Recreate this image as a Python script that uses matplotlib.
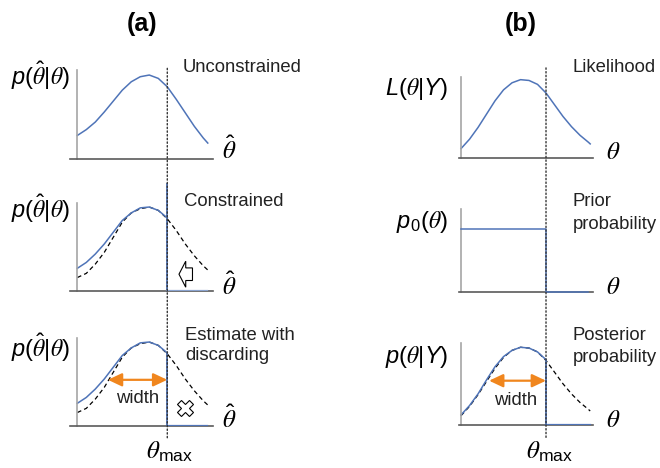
import matplotlib
matplotlib.use('Agg')
import matplotlib.pyplot as plt
from matplotlib.patches import ConnectionPatch, FancyArrow

plt.rcParams['font.family'] = ['Liberation Sans', 'DejaVu Sans']
plt.rcParams['mathtext.fontset'] = 'custom'
plt.rcParams['mathtext.rm'] = 'Liberation Sans'
plt.rcParams['mathtext.it'] = 'STIXGeneral:italic'
plt.rcParams['mathtext.sf'] = 'Liberation Sans:italic'

theta_max = 1.0

# columna (a): estimador
theta_a = [0, 0.1, 0.2, 0.3, 0.4, 0.5, 0.6, 0.7, 0.8, 0.9, 1.0, 1.1, 1.2, 1.3, 1.4, 1.45]
p_unconstrained = [0.28, 0.35, 0.44, 0.56, 0.69, 0.82, 0.92, 0.98, 1.00, 0.96, 0.86, 0.71, 0.55, 0.39, 0.25, 0.19]
p_reference = [0.16, 0.21, 0.32, 0.46, 0.64, 0.82, 0.93, 0.98, 1.00, 0.96, 0.86, 0.72, 0.56, 0.42, 0.30, 0.25]
theta_a_cut = [0, 0.1, 0.2, 0.3, 0.4, 0.5, 0.6, 0.7, 0.8, 0.9, 1.0]
p_constrained = [0.27, 0.34, 0.44, 0.56, 0.70, 0.84, 0.93, 0.99, 1.00, 0.96, 0.87]
tail_end_a = 1.44

# columna (b): bayesiano
theta_b = [0, 0.1, 0.2, 0.3, 0.4, 0.5, 0.6, 0.7, 0.8, 0.9, 1.0, 1.1, 1.2, 1.3, 1.4, 1.5, 1.52]
likelihood = [0.12, 0.24, 0.39, 0.56, 0.73, 0.87, 0.96, 1.00, 0.99, 0.94, 0.83, 0.68, 0.53, 0.40, 0.29, 0.20, 0.18]
theta_b_cut = [0, 0.1, 0.2, 0.3, 0.4, 0.5, 0.6, 0.7, 0.8, 0.9, 1.0]
posterior = [0.13, 0.25, 0.40, 0.58, 0.75, 0.88, 0.96, 1.00, 0.99, 0.94, 0.84]
prior_theta = [0, 1.0, 1.0, 1.49]
prior_p = [0.81, 0.81, 0, 0]
tail_end_b = 1.52

blue = '#4f74b8'
orange = '#f0861e'

W, H = 660, 468
fig = plt.figure(figsize=(W / 100, H / 100), dpi=100)


def make_ax(left, top, right, bottom, xlim, ylim):
    ax = fig.add_axes([left / W, 1 - bottom / H, (right - left) / W, (bottom - top) / H])
    ax.set_xlim(*xlim)
    ax.set_ylim(*ylim)
    ax.spines['top'].set_visible(False)
    ax.spines['right'].set_visible(False)
    ax.spines['left'].set_position(('data', 0))
    ax.spines['left'].set_color('#a6a6a6')
    ax.spines['bottom'].set_color('#5a5a5a')
    ax.spines['left'].set_linewidth(1.2)
    ax.spines['bottom'].set_linewidth(1.2)
    ax.set_xticks([])
    ax.set_yticks([])
    ax.patch.set_alpha(0)
    return ax


def ftext(x, y, s, **kw):
    fig.text(x / W, 1 - y / H, s, **kw)


xa = (-0.081, 1.508)
xb = (-0.024, 1.553)
ax_a1 = make_ax(70, 70, 213, 159, xa, (0, 1.06))
ax_a2 = make_ax(70, 203, 213, 291, xa, (0, 1.048))
ax_a3 = make_ax(70, 338, 213, 426, xa, (0, 1.048))
ax_b1 = make_ax(459, 77, 593, 158, xb, (0, 1.034))
ax_b2 = make_ax(459, 209, 593, 292, xb, (0, 1.064))
ax_b3 = make_ax(459, 343, 593, 425, xb, (0, 1.055))

dash = (0, (3.5, 2.5))

# (a) sin restriccion
ax_a1.plot(theta_a, p_unconstrained, color=blue, lw=1.1)

# (a) con restriccion
ax_a2.plot(theta_a, p_reference, color='black', lw=0.9, ls=dash)
ax_a2.plot(theta_a_cut, p_constrained, color=blue, lw=1.1)
ax_a2.plot([theta_max, theta_max], [0, 1.27], color=blue, lw=1.3, clip_on=False)
ax_a2.plot([theta_max, tail_end_a], [0, 0], color='#8aa3cf', lw=1.6, zorder=5)
ax_a2.add_patch(FancyArrow(1.28, 0.20, -0.15, 0, width=0.15, head_width=0.31,
                           head_length=0.075, length_includes_head=True,
                           fc='white', ec='black', lw=0.8))

# (a) descartando
ax_a3.plot(theta_a, p_reference, color='black', lw=0.9, ls=dash)
ax_a3.plot(theta_a_cut, p_constrained, color=blue, lw=1.1)
ax_a3.plot([theta_max, theta_max], [0, p_constrained[-1]], color=blue, lw=1.3)
ax_a3.plot([theta_max, tail_end_a], [0, 0], color=blue, lw=1.6, zorder=5)
ax_a3.annotate('', xy=(theta_max, 0.55), xytext=(0.34, 0.55),
               arrowprops=dict(arrowstyle='<|-|>,head_length=0.7,head_width=0.33',
                               color=orange, lw=1.6, shrinkA=0, shrinkB=0,
                               mutation_scale=12))
ax_a3.text(0.665, 0.33, 'width', fontsize=13.3, ha='center', va='center', color='#222222')
ax_a3.plot(1.2, 0.21, marker='X', ms=12, mfc='white', mec='black', mew=0.8)

# (b) verosimilitud
ax_b1.plot(theta_b, likelihood, color=blue, lw=1.1)

# (b) prior
ax_b2.plot(prior_theta, prior_p, color=blue, lw=1.1, clip_on=False, zorder=5)

# (b) posterior
ax_b3.plot(theta_b, likelihood, color='black', lw=0.9, ls=dash)
ax_b3.plot(theta_b_cut, posterior, color=blue, lw=1.1)
ax_b3.plot([theta_max, theta_max], [0, posterior[-1]], color=blue, lw=1.3)
ax_b3.plot([theta_max, tail_end_b], [0, 0], color=blue, lw=1.6, zorder=5)
ax_b3.annotate('', xy=(theta_max, 0.57), xytext=(0.33, 0.57),
               arrowprops=dict(arrowstyle='<|-|>,head_length=0.7,head_width=0.33',
                               color=orange, lw=1.6, shrinkA=0, shrinkB=0,
                               mutation_scale=12))
ax_b3.text(0.64, 0.32, 'width', fontsize=13.3, ha='center', va='center', color='#222222')

# lineas punteadas de theta_max
for top_ax, bot_ax, y0, y1 in [(ax_a1, ax_a3, 1.08, -0.14), (ax_b1, ax_b3, 1.15, -0.17)]:
    con = ConnectionPatch(xyA=(theta_max, y0), coordsA=top_ax.transData,
                          xyB=(theta_max, y1), coordsB=bot_ax.transData,
                          color='#333333', lw=1.0, ls=':', zorder=6)
    fig.add_artist(con)

# titulos
ftext(142, 24, '(a)', fontsize=18, weight='bold', ha='center', va='center')
ftext(521, 24, '(b)', fontsize=18, weight='bold', ha='center', va='center')

# etiquetas de eje y
lab = r'$\mathsf{p}(\hat{\theta}|\theta)$'
for y in [76, 209, 348]:
    ftext(70, y, lab, fontsize=17, ha='right', va='center')
ftext(448, 89, r'$\mathsf{L}(\theta|\mathsf{Y})$', fontsize=17, ha='right', va='center')
ftext(448, 222, r'$\mathsf{p}_{\mathrm{0}}(\theta)$', fontsize=17, ha='right', va='center')
ftext(448, 357, r'$\mathsf{p}(\theta|\mathsf{Y})$', fontsize=17, ha='right', va='center')

# etiquetas de eje x
for y in [150, 286, 419]:
    ftext(229, y, r'$\hat{\theta}$', fontsize=18, ha='center', va='center')
for y in [152, 287, 420]:
    ftext(613, y, r'$\theta$', fontsize=18, ha='center', va='center')
ftext(169, 452, r'$\theta_{\mathrm{max}}$', fontsize=18, ha='center', va='center')
ftext(549, 452, r'$\theta_{\mathrm{max}}$', fontsize=18, ha='center', va='center')

# descripciones
kw = dict(fontsize=13.3, ha='left', va='center', color='#222222')
ftext(183, 68, 'Unconstrained', **kw)
ftext(184, 202, 'Constrained', **kw)
ftext(185, 335, 'Estimate with', **kw)
ftext(185, 356, 'discarding', **kw)
ftext(573, 68, 'Likelihood', **kw)
ftext(573, 202, 'Prior', **kw)
ftext(573, 224, 'probability', **kw)
ftext(573, 335, 'Posterior', **kw)
ftext(573, 357, 'probability', **kw)

fig.savefig('out.png', dpi=100)
